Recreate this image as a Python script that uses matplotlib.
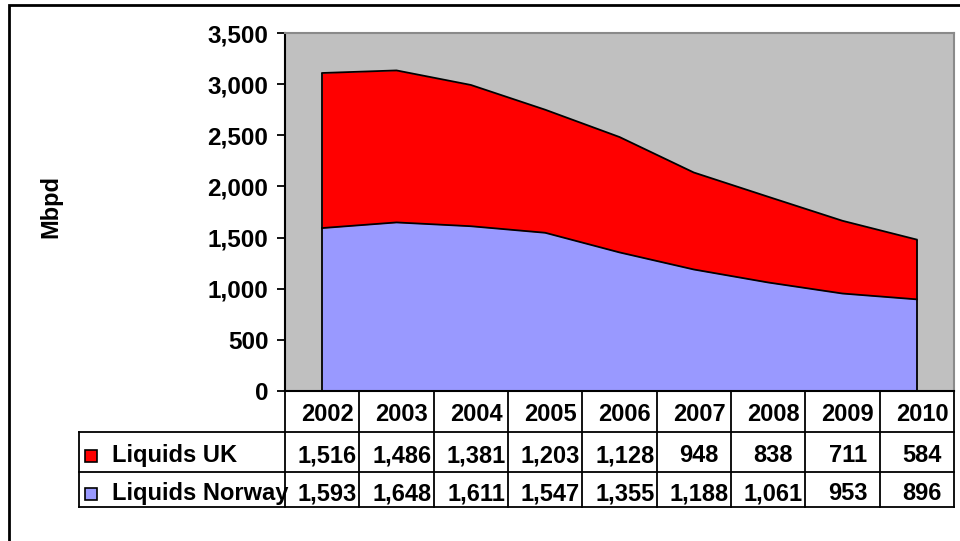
import numpy as np
import matplotlib
matplotlib.use("Agg")
import matplotlib.pyplot as plt
from matplotlib.patches import Rectangle
from matplotlib.lines import Line2D
from matplotlib.transforms import blended_transform_factory

years = ["2002", "2003", "2004", "2005", "2006", "2007", "2008", "2009", "2010"]
liquids_uk = [1516, 1486, 1381, 1203, 1128, 948, 838, 711, 584]
liquids_norway = [1593, 1648, 1611, 1547, 1355, 1188, 1061, 953, 896]
series_names = ["Liquids UK", "Liquids Norway"]
series_colors = ["#FF0000", "#9999FF"]
yticks = [0, 500, 1000, 1500, 2000, 2500, 3000, 3500]
ylabel = "Mbpd"

plt.rcParams['font.family'] = ['Liberation Sans', 'DejaVu Sans']
plt.rcParams['font.weight'] = 'bold'

W, H = 960, 541
fig = plt.figure(figsize=(9.6, 5.41), dpi=100)

def fx(px):
    return px / W

def fy(py):
    return 1 - py / H

left, right, top, bottom = 285, 954, 33, 391
ax = fig.add_axes([fx(left), fy(bottom), fx(right - left), (bottom - top) / H])
ax.set_facecolor('#C0C0C0')

x = np.arange(len(years))
nor = np.array(liquids_norway)
uk = np.array(liquids_uk)
tot = nor + uk
ax.fill_between(x, 0, nor, color=series_colors[1], lw=0)
ax.fill_between(x, nor, tot, color=series_colors[0], lw=0)
ax.plot(x, nor, color='black', lw=1.3)
ax.plot(x, tot, color='black', lw=1.3)
ax.vlines([x[0], x[-1]], 0, [tot[0], tot[-1]], color='black', lw=1.3)

ax.set_xlim(-0.5, len(years) - 0.5)
ax.set_ylim(0, 3500)
ax.set_xticks([])
ax.set_yticks(yticks)
ax.set_yticklabels([f"{v:,}" for v in yticks], fontsize=17.5, fontweight='bold')
ax.tick_params(axis='y', length=6, width=1.3, pad=6, color='black')
for s in ['left', 'bottom']:
    ax.spines[s].set_color('black')
    ax.spines[s].set_linewidth(1.5)
for s in ['top', 'right']:
    ax.spines[s].set_color('#8A8A8A')
    ax.spines[s].set_linewidth(1.5)

# y label
fig.text(fx(51), fy(207), ylabel, rotation=90, ha='center', va='center',
         fontsize=17, fontweight='bold')

# data table
tr = blended_transform_factory(ax.transData, fig.transFigure)
row_lines = [432, 472, 507]
# vertical column lines
for i in range(len(years) + 1):
    fig.add_artist(Line2D([i - 0.5, i - 0.5], [fy(bottom), fy(row_lines[-1])],
                          transform=tr, color='black', lw=1.3))
# horizontal row lines
for ry in row_lines:
    fig.add_artist(Line2D([fx(79), fx(right)], [fy(ry), fy(ry)],
                          transform=fig.transFigure, color='black', lw=1.3))
# left border of legend cells
fig.add_artist(Line2D([fx(79), fx(79)], [fy(row_lines[0]), fy(row_lines[-1])],
                      transform=fig.transFigure, color='black', lw=1.3))

fs = 17
header_base = 421
row_bases = [462, 500]
for i, yr in enumerate(years):
    fig.text(i + 0.07, fy(header_base), yr, transform=tr, ha='center',
             va='baseline', fontsize=fs, fontweight='bold')
for r, vals in enumerate([liquids_uk, liquids_norway]):
    for i, v in enumerate(vals):
        fig.text(i + 0.07, fy(row_bases[r]), f"{v:,}", transform=tr,
                 ha='center', va='baseline', fontsize=fs, fontweight='bold')
    # legend key
    sq_top = row_bases[r] - 12.5
    fig.add_artist(Rectangle((fx(85), fy(sq_top + 12)), fx(12), 12 / H,
                             transform=fig.transFigure, facecolor=series_colors[r],
                             edgecolor='black', lw=1.2))
    fig.text(fx(112), fy(row_bases[r]), series_names[r], ha='left',
             va='baseline', fontsize=fs, fontweight='bold')

# outer chart border
fig.add_artist(Rectangle((fx(9), -0.05), 1.2, fy(5) + 0.05,
                         transform=fig.transFigure, facecolor='none',
                         edgecolor='black', lw=2, clip_on=False))

fig.savefig('out.png', dpi=100)
